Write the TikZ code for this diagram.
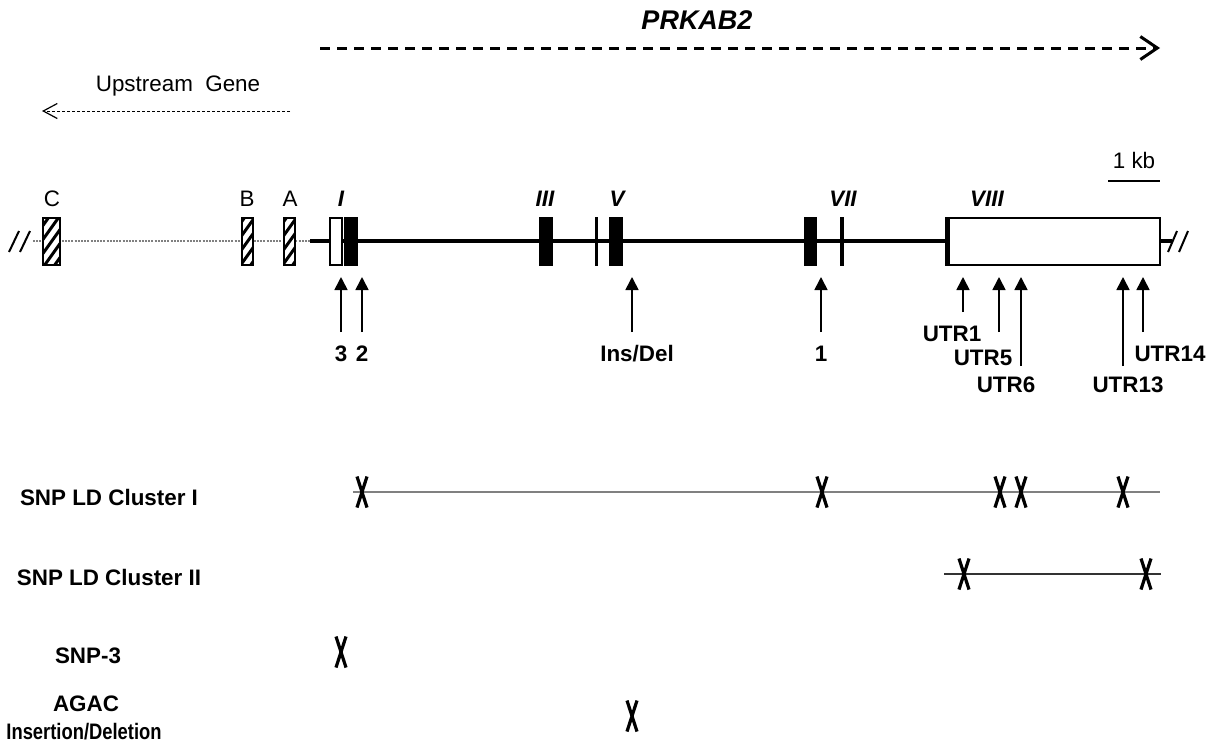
\documentclass[tikz,border=0pt]{standalone}
\usepackage{fontspec}
\setmainfont{Liberation Sans}
\usetikzlibrary{arrows.meta}
\begin{document}
\begin{tikzpicture}[x=0.5pt,y=-0.5pt,
  reg/.style={font=\fontsize{11.2}{13}\selectfont, inner sep=0pt, anchor=base},
  bld/.style={font=\fontsize{11.2}{13}\selectfont\bfseries, inner sep=0pt, anchor=base},
  exlab/.style={font=\fontsize{11.2}{13}\selectfont\bfseries\itshape, inner sep=0pt, anchor=base},
  exbox/.style={draw=black, line width=0.6pt, inner sep=0pt, outer sep=0pt, minimum height=23.5pt},
  exfill/.style={exbox, fill=black},
  exopen/.style={exbox, fill=white},
  hatchbox/.style={exbox, fill=white, path picture={
      \foreach \k in {-5,...,5}
        \draw[line width=1.5pt, shift={(path picture bounding box.center)}]
          (\k*10-20,28) -- (\k*10+20,-28);}},
  upar/.style={-{Triangle[length=6.5pt,width=6.5pt]}, line width=0.85pt},
  slash/.style={line width=1pt},
  snpmark/.pic={\draw[line width=1.6pt] (-5,-15.5) -- (5,15.5) (5,-15.5) -- (-5,15.5);}
]
\useasboundingbox[fill=white] (0,0) rectangle (1210,746);

% ---- top arrows ----
\node[font=\fontsize{13.5}{16}\selectfont\bfseries\itshape, inner sep=0pt, anchor=base] (prk) at (697,29) {PRKAB2};
\coordinate (pk1) at (320,48);
\coordinate (pk2) at (1160,48);
\draw[line width=1.5pt, dash pattern=on 5pt off 3.5pt, -{Straight Barb[length=8.5pt,width=11.5pt,line width=1.5pt]}] (pk1) -- (pk2);

\node[reg] (ups) at (178,91) {Upstream\ \ Gene};
\coordinate (ug1) at (290,111);
\coordinate (ug2) at (42,111);
\draw[line width=0.5pt, dash pattern=on 1.5pt off 1pt, -{Straight Barb[length=7pt,width=7.5pt,line width=0.6pt]}] (ug1) -- (ug2);

% ---- scale bar ----
\node[reg] (kb) at (1134,168) {1 kb};
\coordinate (sb1) at (1108,181);
\coordinate (sb2) at (1160,181);
\draw[line width=1pt] (sb1) -- (sb2);

% ---- gene line ----
\draw[slash] (9,252) -- (19,231) (20,252) -- (30,231);
\coordinate (dl1) at (33,241);
\coordinate (dl2) at (310,241);
\draw[gray, line width=0.7pt, dash pattern=on 1pt off 0.6pt] (dl1) -- (dl2);
\coordinate (gl1) at (310,241);
\coordinate (gl2) at (1172,241);
\draw[line width=2.4pt] (gl1) -- (gl2);
\draw[slash] (1168,252) -- (1177,231) (1179,252) -- (1188,231);

\node[hatchbox, minimum width=8.5pt] (exC) at (51.5,241.5) {};
\node[hatchbox, minimum width=5.5pt] (exB) at (247.5,241.5) {};
\node[hatchbox, minimum width=5.5pt] (exA) at (289.5,241.5) {};
\node[exopen, minimum width=6pt] (exIa) at (336,241.5) {};
\node[exfill, minimum width=6pt] (exIb) at (351,241.5) {};
\node[exfill, minimum width=6pt] (exIII) at (546,241.5) {};
\node[exfill, minimum width=1pt] (exIV) at (596.5,241.5) {};
\node[exfill, minimum width=6pt] (exV) at (616,241.5) {};
\node[exfill, minimum width=5.5pt] (exVI) at (810.5,241.5) {};
\node[exfill, minimum width=1pt] (exVII) at (842,241.5) {};
\node[exfill, minimum width=1.5pt] (exVIIIa) at (947.5,241.5) {};
\node[exopen, minimum width=105.5pt] (exVIII) at (1054.5,241.5) {};

\node[reg] (lC) at (52,206) {C};
\node[reg] (lB) at (247,206) {B};
\node[reg] (lA) at (290,206) {A};
\node[exlab] (lI) at (341,206) {I};
\node[exlab] (lIII) at (545,206) {III};
\node[exlab] (lV) at (617,206) {V};
\node[exlab] (lVII) at (843,206) {VII};
\node[exlab] (lVIII) at (987,206) {VIII};

% ---- SNP arrows ----
\coordinate (a3b) at (341,332);  \coordinate (a3t) at (341,277);
\coordinate (a2b) at (362,332);  \coordinate (a2t) at (362,277);
\coordinate (aidb) at (632,332); \coordinate (aidt) at (632,277);
\coordinate (a1b) at (821,332);  \coordinate (a1t) at (821,277);
\coordinate (u1b) at (963,312);  \coordinate (u1t) at (963,277);
\coordinate (u5b) at (999,332);  \coordinate (u5t) at (999,277);
\coordinate (u6b) at (1021,366); \coordinate (u6t) at (1021,277);
\coordinate (u13b) at (1123,366); \coordinate (u13t) at (1123,277);
\coordinate (u14b) at (1143,332); \coordinate (u14t) at (1143,277);
\foreach \p in {a3,a2,aid,a1,u1,u5,u6,u13,u14}
  \draw[upar] (\p b) -- (\p t);

\node[bld] (l3) at (341,361) {3};
\node[bld] (l2) at (362,361) {2};
\node[bld] (lid) at (637,361) {Ins/Del};
\node[bld] (l1) at (821,361) {1};
\node[bld] (lu1) at (952,341) {UTR1};
\node[bld] (lu5) at (983,365) {UTR5};
\node[bld] (lu6) at (1006,392) {UTR6};
\node[bld] (lu13) at (1128,392) {UTR13};
\node[bld] (lu14) at (1170,361) {UTR14};

% ---- LD clusters ----
\node[bld] (cl1) at (109,505) {SNP LD Cluster I};
\coordinate (c1s) at (353,492);
\coordinate (c1e) at (1160,492);
\draw[gray, line width=0.8pt] (c1s) -- (c1e);
\foreach \x in {362,822,1000,1021,1123} \pic at (\x,492) {snpmark};

\node[bld] (cl2) at (109,585) {SNP LD Cluster II};
\coordinate (c2s) at (944,574);
\coordinate (c2e) at (1161,574);
\draw[black!80, line width=0.9pt] (c2s) -- (c2e);
\foreach \x in {964,1146} \pic at (\x,574) {snpmark};

\node[bld] (snp3) at (88,663) {SNP-3};
\pic at (341,652) {snpmark};

\node[bld] (agac) at (86,711) {AGAC};
\node[bld, xscale=0.82] (insdel) at (84,739) {Insertion/Deletion};
\pic at (632,716) {snpmark};
\end{tikzpicture}
\end{document}
